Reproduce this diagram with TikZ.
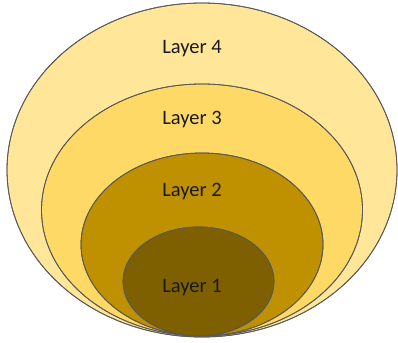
\documentclass[tikz,border=0pt]{standalone}
\usepackage{fontspec}
\setmainfont{Carlito}
\begin{document}
\begin{tikzpicture}[x=1pt,y=-1pt,
  ring/.style={draw=black!65, line width=0.8pt},
  lbl/.style={font=\fontsize{20.5}{24}\selectfont, text=black!90}]
\useasboundingbox (0,0) rectangle (398,342);
% nested layers, all touching at the bottom
\fill[ring, fill={rgb,255:red,255;green,230;blue,153}] (202,170) ellipse [x radius=195, y radius=167];
\fill[ring, fill={rgb,255:red,255;green,217;blue,102}] (202,210) ellipse [x radius=160.5, y radius=126];
\fill[ring, fill={rgb,255:red,191;green,144;blue,0}] (202,244.5) ellipse [x radius=121, y radius=91.5];
\fill[ring, fill={rgb,255:red,127;green,96;blue,0}] (198.5,281.5) ellipse [x radius=75.5, y radius=54.5];
\draw[ring] (202,170) ellipse [x radius=195, y radius=167];
\draw[ring] (202,210) ellipse [x radius=160.5, y radius=126];
\draw[ring] (202,244.5) ellipse [x radius=121, y radius=91.5];
\draw[ring] (198.5,281.5) ellipse [x radius=75.5, y radius=54.5];
\node[lbl] (l4) at (192,49) {Layer 4};
\node[lbl] (l3) at (192,120) {Layer 3};
\node[lbl] (l2) at (192,191) {Layer 2};
\node[lbl] (l1) at (192,288) {Layer 1};
\end{tikzpicture}
\end{document}
